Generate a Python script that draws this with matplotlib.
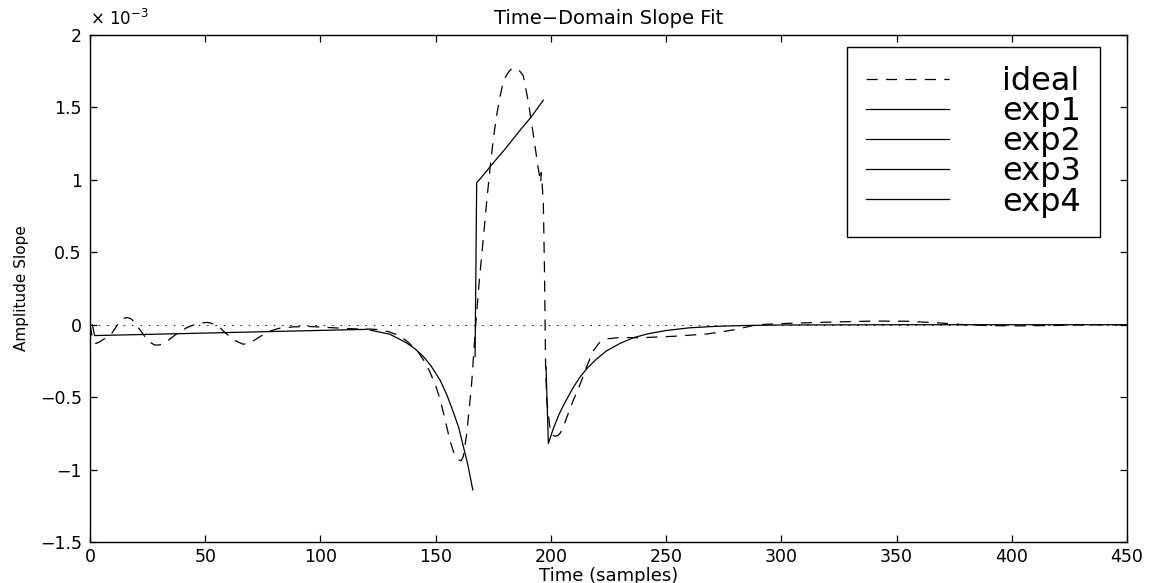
import matplotlib
matplotlib.use("Agg")
import matplotlib.pyplot as plt
from matplotlib.ticker import FixedLocator, FuncFormatter

plt.rcParams['font.family'] = ['DejaVu Sans']
plt.rcParams['lines.scale_dashes'] = False

# ---- data (amplitude slope in units of 1e-3) ----
ideal_x = [0, 1, 2.5, 4, 6, 9.4, 12, 14, 16, 18, 20, 22.4, 25, 28, 30, 33, 37, 42, 47, 51,
           55, 59, 63, 66.5, 70, 74, 78, 82, 88, 95, 102, 110, 117, 121.5, 126, 130, 134,
           137.3, 140, 142.5, 145, 147.6, 150, 152, 154, 156.2, 158, 159.8, 161, 162, 163.5,
           165.6, 167.1, 168.8, 170.7, 172.2, 173.6, 175, 176.5, 178, 179.3, 181, 182.5,
           184.4, 186, 188, 190.2, 192.4, 194.5, 195.6, 195.8, 196.7, 197.2, 197.5, 197.7,
           198.2, 199.5, 200.5, 201.8, 203, 204, 205.5, 206.9, 209.5, 212.7, 215.5, 218.4,
           221, 224.2, 230, 238.7, 253.2, 267.7, 279.2, 289.4, 303.8, 325.5, 340, 354.5,
           368.9, 379, 390.6, 402.2, 420, 435, 450]
ideal_y = [0, -0.09, -0.13, -0.12, -0.10, -0.06, 0.0, 0.04, 0.05, 0.04, 0.0, -0.05, -0.11,
           -0.14, -0.14, -0.12, -0.07, -0.02, 0.01, 0.016, 0.0, -0.06, -0.11, -0.135, -0.12,
           -0.08, -0.045, -0.025, -0.015, -0.012, -0.018, -0.025, -0.03, -0.03, -0.035,
           -0.05, -0.075, -0.11, -0.15, -0.19, -0.25, -0.33, -0.42, -0.52, -0.65, -0.80,
           -0.89, -0.93, -0.94, -0.91, -0.75, -0.41, -0.06, 0.28, 0.6, 0.86, 1.08, 1.28,
           1.45, 1.58, 1.676, 1.73, 1.76, 1.77, 1.76, 1.72, 1.54, 1.31, 1.08, 0.98, 1.05,
           0.86, 0.4, 0.0, -0.29, -0.52, -0.70, -0.76, -0.77, -0.765, -0.75, -0.70, -0.64,
           -0.53, -0.41, -0.29, -0.18, -0.125, -0.098, -0.088, -0.09, -0.08, -0.064, -0.036,
           0.0, 0.01, 0.02, 0.025, 0.024, 0.012, 0.0, -0.006, -0.008, -0.005, 0.0, 0.0]

exp1_x = [1, 2, 30, 60, 90, 120]
exp1_y = [0.0, -0.075, -0.065, -0.054, -0.043, -0.032]

exp2_x = [121.5, 126, 130, 134, 137.3, 141, 144.7, 148, 152, 155, 157.8, 160, 162, 164, 166.1]
exp2_y = [-0.037, -0.052, -0.065, -0.097, -0.125, -0.166, -0.22, -0.285, -0.385, -0.49,
          -0.61, -0.71, -0.84, -0.97, -1.14]

exp3_x = [167.1, 167.8, 170, 173.6, 177, 180, 183.5, 187, 191, 194, 196.7]
exp3_y = [-0.22, 0.98, 1.02, 1.09, 1.155, 1.21, 1.28, 1.35, 1.425, 1.49, 1.55]

exp4_x = [197.9, 198.9, 201, 203.5, 206, 209.8, 212.7, 216, 220, 224.2, 230, 235.8, 242,
          250, 260.4, 272, 285, 300, 350, 400, 450]
exp4_y = [-0.29, -0.82, -0.72, -0.62, -0.54, -0.43, -0.36, -0.296, -0.234, -0.18, -0.129,
          -0.09, -0.063, -0.04, -0.021, -0.011, -0.005, -0.002, 0.0, 0.0, 0.0]

x_ticks = [0, 50, 100, 150, 200, 250, 300, 350, 400, 450]
y_ticks = [-1.5, -1, -0.5, 0, 0.5, 1, 1.5, 2]
legend_labels = ['ideal', 'exp1', 'exp2', 'exp3', 'exp4']

# ---- figure ----
fig = plt.figure(figsize=(11.53, 5.83), dpi=100)
ax = fig.add_axes([90 / 1153, 1 - 542 / 583, 1037 / 1153, 507 / 583])

lw = 0.9
ax.axhline(0, color='black', lw=0.7, ls=(0, (1, 5)))
ax.plot(ideal_x, ideal_y, color='black', lw=lw, ls=(0, (8, 6)), label=legend_labels[0])
ax.plot(exp1_x, exp1_y, color='black', lw=lw, label=legend_labels[1])
ax.plot(exp2_x, exp2_y, color='black', lw=lw, label=legend_labels[2])
ax.plot(exp3_x, exp3_y, color='black', lw=lw, label=legend_labels[3])
ax.plot(exp4_x, exp4_y, color='black', lw=lw, label=legend_labels[4])

ax.set_xlim(0, 450)
ax.set_ylim(-1.5, 2)
ax.xaxis.set_major_locator(FixedLocator(x_ticks))
ax.yaxis.set_major_locator(FixedLocator(y_ticks))
ax.yaxis.set_major_formatter(FuncFormatter(lambda v, p: ('%g' % v).replace('-', '\u2212')))
ax.tick_params(direction='in', length=5, width=0.9, top=True, right=True, labelsize=12.5)
ax.tick_params(axis='x', pad=4)
ax.tick_params(axis='y', pad=6)
for s in ax.spines.values():
    s.set_linewidth(1.0)

ax.set_xlabel('Time (samples)', fontsize=13, labelpad=1)
ax.set_ylabel('Amplitude Slope', fontsize=11, labelpad=8)
ax.set_title('Time\u2212Domain Slope Fit', fontsize=14, pad=8)
ax.text(0.0, 1.012, r'$\times\ 10^{-3}$', transform=ax.transAxes, ha='left', va='bottom',
        fontsize=12)

leg = ax.legend(loc='upper right', bbox_to_anchor=(0.974, 0.976), fontsize=23,
                handlelength=2.6, handletextpad=1.65, borderpad=0.6, labelspacing=-0.03,
                borderaxespad=0, fancybox=False, framealpha=1, edgecolor='black')
leg.get_frame().set_linewidth(1.0)

fig.savefig('out.png', dpi=100)
